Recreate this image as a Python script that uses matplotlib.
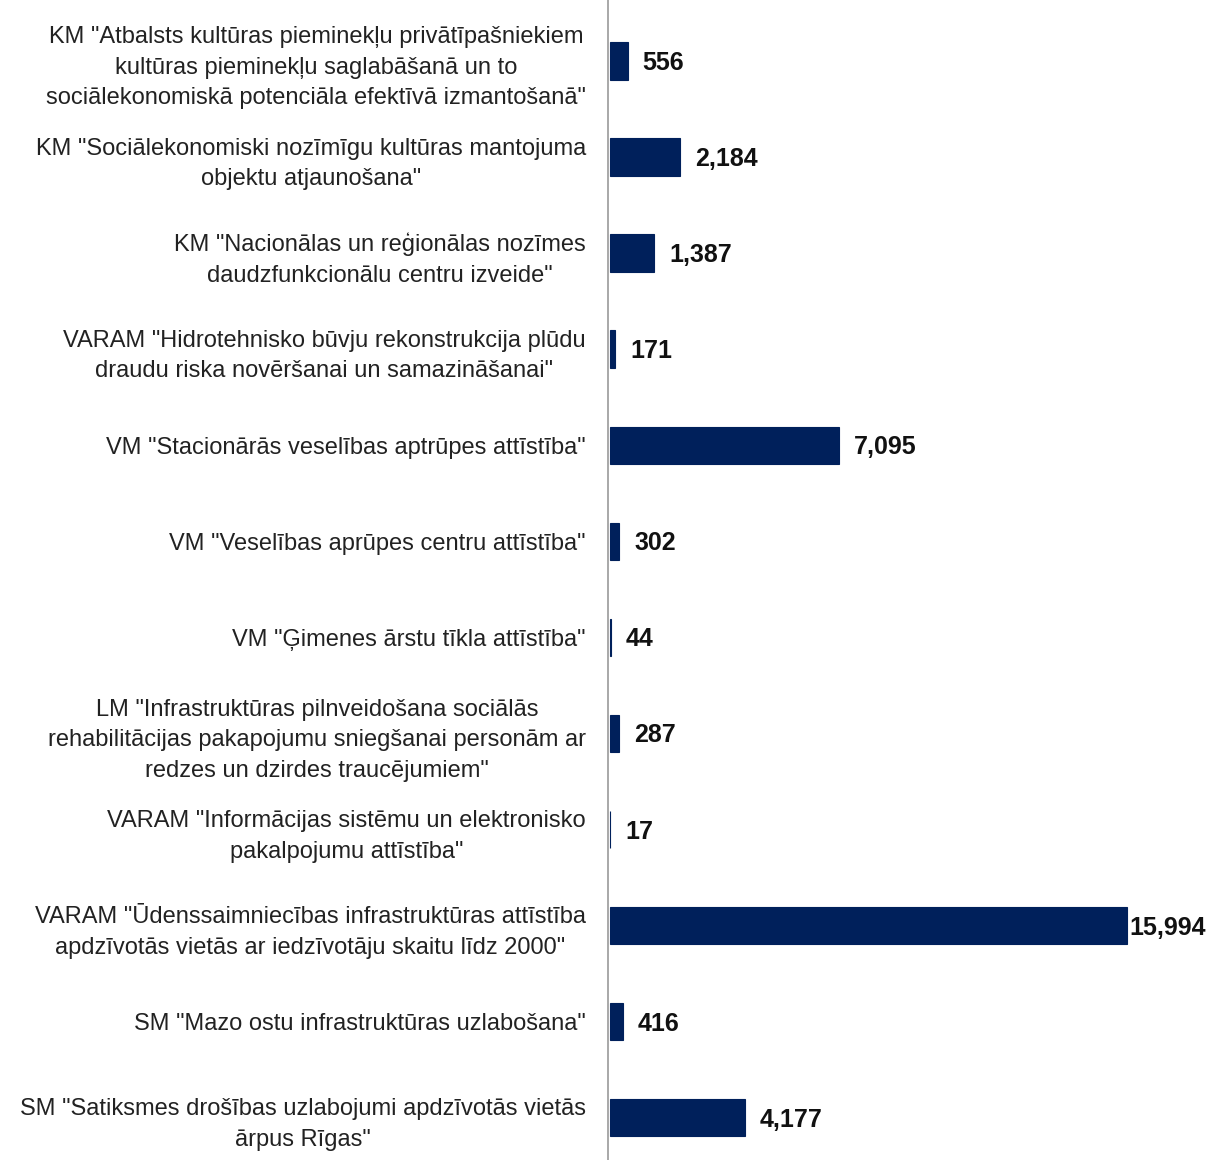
import matplotlib.pyplot as plt
from matplotlib.transforms import offset_copy

# Data (thousand EUR), top to bottom
labels = [
    'KM "Atbalsts kultūras pieminekļu privātīpašniekiem\nkultūras pieminekļu saglabāšanā un to\nsociālekonomiskā potenciāla efektīvā izmantošanā"',
    'KM "Sociālekonomiski nozīmīgu kultūras mantojuma\nobjektu atjaunošana"',
    'KM "Nacionālas un reģionālas nozīmes\ndaudzfunkcionālu centru izveide"',
    'VARAM "Hidrotehnisko būvju rekonstrukcija plūdu\ndraudu riska novēršanai un samazināšanai"',
    'VM "Stacionārās veselības aptrūpes attīstība"',
    'VM "Veselības aprūpes centru attīstība"',
    'VM "Ģimenes ārstu tīkla attīstība"',
    'LM "Infrastruktūras pilnveidošana sociālās\nrehabilitācijas pakapojumu sniegšanai personām ar\nredzes un dzirdes traucējumiem"',
    'VARAM "Informācijas sistēmu un elektronisko\npakalpojumu attīstība"',
    'VARAM "Ūdenssaimniecības infrastruktūras attīstība\napdzīvotās vietās ar iedzīvotāju skaitu līdz 2000"',
    'SM "Mazo ostu infrastruktūras uzlabošana"',
    'SM "Satiksmes drošības uzlabojumi apdzīvotās vietās\nārpus Rīgas"',
]
values = [556, 2184, 1387, 171, 7095, 302, 44, 287, 17, 15994, 416, 4177]

plt.rcParams['font.family'] = ['Liberation Sans', 'DejaVu Sans']

fig = plt.figure(figsize=(12.16, 11.6), dpi=100)
ax = fig.add_axes([0.5, 0.0, 0.5, 1.0])

pos = list(range(len(values)))
ax.barh(pos, values, height=0.39, left=50, color='#00205b',
        edgecolor='#00205b', linewidth=0.8, zorder=3)

ax.set_xlim(0, 18800)
ax.set_ylim(11.44, -0.635)

ax.set_yticks(pos)
ax.set_yticklabels(labels, fontsize=17, color='#222222', multialignment='center',
                   linespacing=1.5)
ax.tick_params(axis='y', length=0, pad=16)
ax.set_xticks([])

for s in ['top', 'right', 'bottom']:
    ax.spines[s].set_visible(False)
ax.spines['left'].set_color('#999999')
ax.spines['left'].set_linewidth(1.2)

for i, v in enumerate(values):
    off = 3 if v == max(values) else 15
    tr = offset_copy(ax.transData, fig=fig, x=off, y=-2, units='dots')
    ax.text(v + 50, i, f'{v:,}', transform=tr, ha='left', va='center',
            fontsize=18, fontweight='bold', color='#111111')

fig.savefig('out.png', dpi=100)
